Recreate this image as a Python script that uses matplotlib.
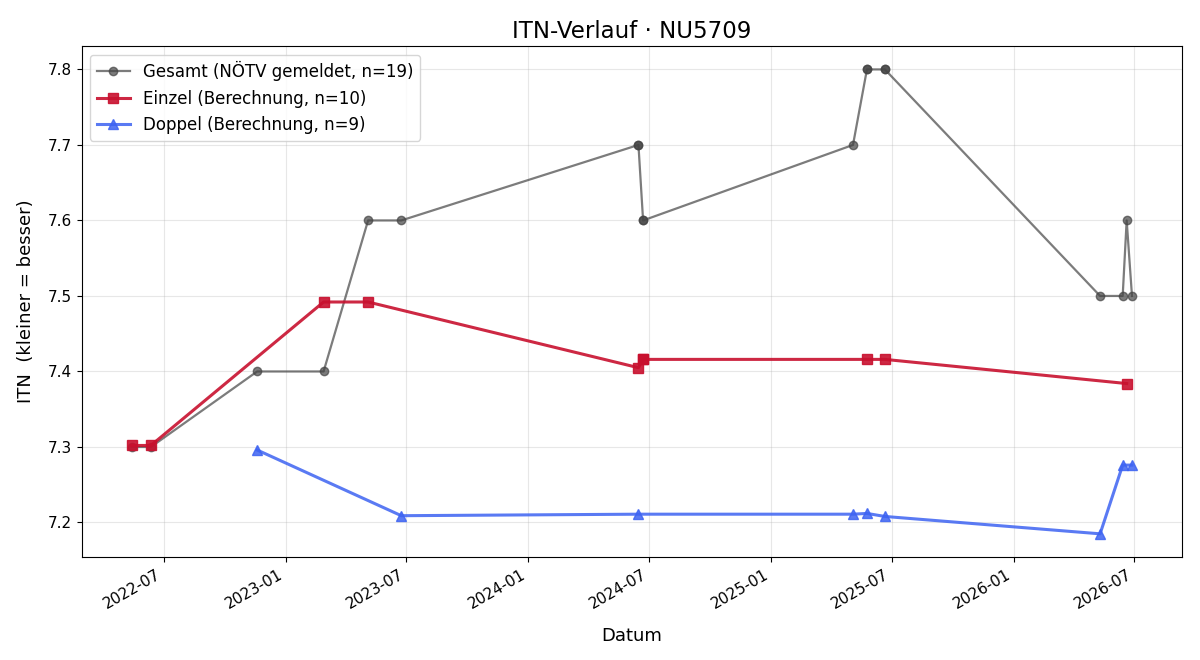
import matplotlib
matplotlib.use("Agg")
import matplotlib.pyplot as plt
import matplotlib.dates as mdates
import pandas as pd

gesamt_dates = ["2022-05-14", "2022-06-12", "2022-11-19", "2023-02-27", "2023-05-05",
                "2023-06-24", "2024-06-15", "2024-06-15", "2024-06-22", "2024-06-22",
                "2025-05-04", "2025-05-25", "2025-05-25", "2025-06-21", "2025-06-21",
                "2026-05-11", "2026-06-14", "2026-06-20", "2026-06-28"]
gesamt_vals = [7.3, 7.3, 7.4, 7.4, 7.6, 7.6, 7.7, 7.7, 7.6, 7.6,
               7.7, 7.8, 7.8, 7.8, 7.8, 7.5, 7.5, 7.6, 7.5]

einzel_dates = ["2022-05-14", "2022-06-12", "2023-02-27", "2023-05-05", "2024-06-15",
                "2024-06-22", "2024-06-22", "2025-05-25", "2025-06-21", "2026-06-20"]
einzel_vals = [7.302, 7.302, 7.492, 7.492, 7.405, 7.416, 7.416, 7.416, 7.416, 7.384]

doppel_dates = ["2022-11-19", "2023-06-24", "2024-06-15", "2025-05-04", "2025-05-25",
                "2025-06-21", "2026-05-11", "2026-06-14", "2026-06-28"]
doppel_vals = [7.296, 7.209, 7.211, 7.211, 7.212, 7.208, 7.185, 7.276, 7.276]

fig, ax = plt.subplots(figsize=(12, 6.6), dpi=100)

ax.plot(pd.to_datetime(gesamt_dates), gesamt_vals, marker="o", color="#444444",
        alpha=0.7, linewidth=1.6, markersize=6,
        label=f"Gesamt (NÖTV gemeldet, n={len(gesamt_vals)})")
ax.plot(pd.to_datetime(einzel_dates), einzel_vals, marker="s", color="#c8102e",
        alpha=0.9, linewidth=2.2, markersize=7,
        label=f"Einzel (Berechnung, n={len(einzel_vals)})")
ax.plot(pd.to_datetime(doppel_dates), doppel_vals, marker="^", color="#3d63f2",
        alpha=0.85, linewidth=2.2, markersize=7,
        label=f"Doppel (Berechnung, n={len(doppel_vals)})")

ax.set_title("ITN-Verlauf · NU5709", fontsize=16.5)
ax.set_xlabel("Datum", fontsize=13, labelpad=11)
ax.set_ylabel("ITN  (kleiner = besser)", fontsize=13, labelpad=9)
ax.grid(True, alpha=0.3)
ax.legend(loc="upper left", fontsize=12)
ax.tick_params(labelsize=11)
ax.xaxis.set_major_formatter(mdates.DateFormatter("%Y-%m"))
fig.autofmt_xdate()
fig.subplots_adjust(left=0.068, right=0.985, top=0.930, bottom=0.156)
fig.savefig("out.png", dpi=100)
